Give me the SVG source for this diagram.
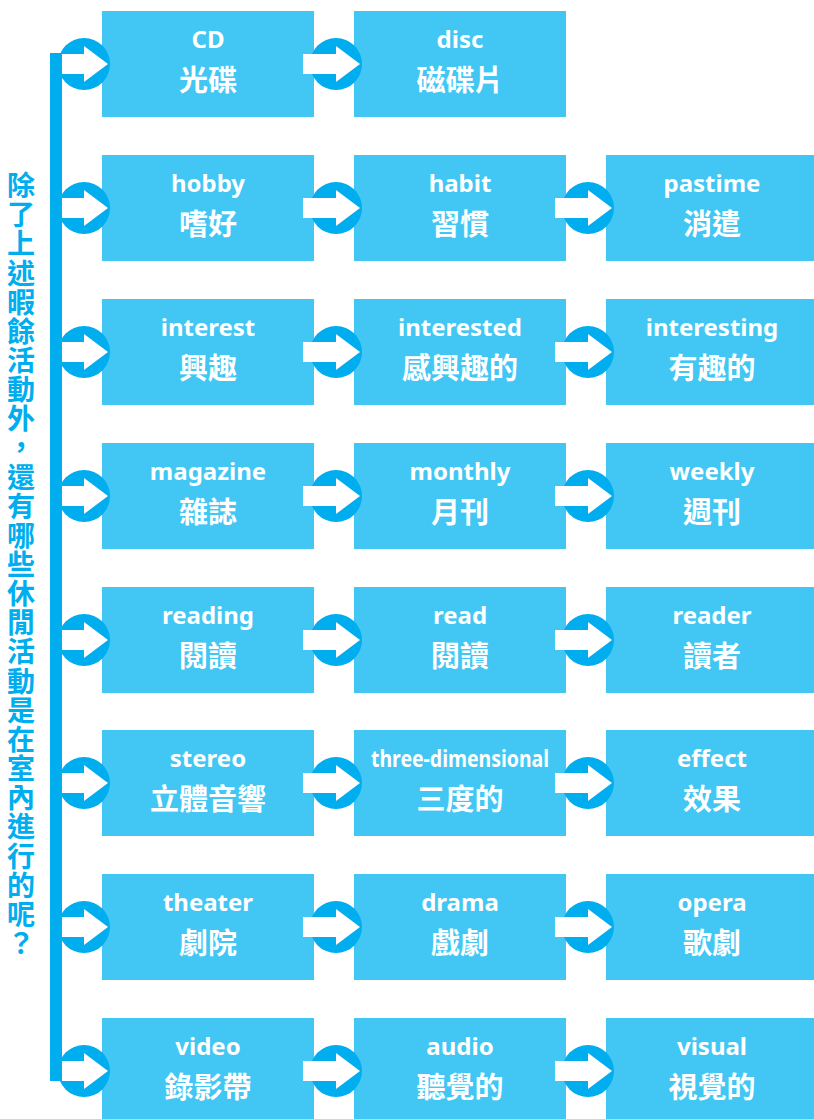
<svg xmlns="http://www.w3.org/2000/svg" xmlns:xlink="http://www.w3.org/1999/xlink" width="814" height="1119" viewBox="0 0 814 1119">
<style>
.box{fill:#42C7F4}
.en{font-family:"Noto Sans","Liberation Sans",sans-serif;font-weight:bold;font-size:24px;fill:#fff;text-anchor:middle}
.zh{font-family:"Noto Sans CJK TC","Noto Sans",sans-serif;font-weight:bold;font-size:29px;fill:#fff;text-anchor:middle;dominant-baseline:central}
.side{font-family:"Noto Sans CJK TC",sans-serif;font-weight:bold;font-size:28px;fill:#00AEEF;text-anchor:middle;dominant-baseline:central}
.dark{fill:#00AEEF}
</style>
<defs>
<g id="arr">
<circle cx="0" cy="0" r="26" fill="#00AEEF"/>
<rect x="-33" y="-10" width="34" height="20" fill="#fff"/>
<polygon points="0,-18 24,0 0,18" fill="#fff"/>
</g>
</defs>
<rect width="814" height="1119" fill="#fff"/>

<g id="n-cd"><rect class="box" x="102" y="11" width="212" height="106"/><text class="en" x="208" y="48">CD</text><text class="zh" x="208" y="78">光碟</text></g>
<g id="n-disc"><rect class="box" x="354" y="11" width="212" height="106"/><text class="en" x="460" y="48">disc</text><text class="zh" x="460" y="78">磁碟片</text></g>

<g id="n-hobby"><rect class="box" x="102" y="155" width="212" height="106"/><text class="en" x="208" y="192">hobby</text><text class="zh" x="208" y="222">嗜好</text></g>
<g id="n-habit"><rect class="box" x="354" y="155" width="212" height="106"/><text class="en" x="460" y="192">habit</text><text class="zh" x="460" y="222">習慣</text></g>
<g id="n-pastime"><rect class="box" x="606" y="155" width="212" height="106"/><text class="en" x="712" y="192">pastime</text><text class="zh" x="712" y="222">消遣</text></g>

<g id="n-interest"><rect class="box" x="102" y="299" width="212" height="106"/><text class="en" x="208" y="336">interest</text><text class="zh" x="208" y="366">興趣</text></g>
<g id="n-interested"><rect class="box" x="354" y="299" width="212" height="106"/><text class="en" x="460" y="336">interested</text><text class="zh" x="460" y="366">感興趣的</text></g>
<g id="n-interesting"><rect class="box" x="606" y="299" width="212" height="106"/><text class="en" x="712" y="336">interesting</text><text class="zh" x="712" y="366">有趣的</text></g>

<g id="n-magazine"><rect class="box" x="102" y="443" width="212" height="106"/><text class="en" x="208" y="480">magazine</text><text class="zh" x="208" y="510">雜誌</text></g>
<g id="n-monthly"><rect class="box" x="354" y="443" width="212" height="106"/><text class="en" x="460" y="480">monthly</text><text class="zh" x="460" y="510">月刊</text></g>
<g id="n-weekly"><rect class="box" x="606" y="443" width="212" height="106"/><text class="en" x="712" y="480">weekly</text><text class="zh" x="712" y="510">週刊</text></g>

<g id="n-reading"><rect class="box" x="102" y="587" width="212" height="106"/><text class="en" x="208" y="624">reading</text><text class="zh" x="208" y="654">閱讀</text></g>
<g id="n-read"><rect class="box" x="354" y="587" width="212" height="106"/><text class="en" x="460" y="624">read</text><text class="zh" x="460" y="654">閱讀</text></g>
<g id="n-reader"><rect class="box" x="606" y="587" width="212" height="106"/><text class="en" x="712" y="624">reader</text><text class="zh" x="712" y="654">讀者</text></g>

<g id="n-stereo"><rect class="box" x="102" y="730" width="212" height="106"/><text class="en" x="208" y="767">stereo</text><text class="zh" x="208" y="797">立體音響</text></g>
<g id="n-3d"><rect class="box" x="354" y="730" width="212" height="106"/><text class="en" x="460" y="767" textLength="178" lengthAdjust="spacingAndGlyphs">three-dimensional</text><text class="zh" x="460" y="797">三度的</text></g>
<g id="n-effect"><rect class="box" x="606" y="730" width="212" height="106"/><text class="en" x="712" y="767">effect</text><text class="zh" x="712" y="797">效果</text></g>

<g id="n-theater"><rect class="box" x="102" y="874" width="212" height="106"/><text class="en" x="208" y="911">theater</text><text class="zh" x="208" y="941">劇院</text></g>
<g id="n-drama"><rect class="box" x="354" y="874" width="212" height="106"/><text class="en" x="460" y="911">drama</text><text class="zh" x="460" y="941">戲劇</text></g>
<g id="n-opera"><rect class="box" x="606" y="874" width="212" height="106"/><text class="en" x="712" y="911">opera</text><text class="zh" x="712" y="941">歌劇</text></g>

<g id="n-video"><rect class="box" x="102" y="1018" width="212" height="106"/><text class="en" x="208" y="1055">video</text><text class="zh" x="208" y="1085">錄影帶</text></g>
<g id="n-audio"><rect class="box" x="354" y="1018" width="212" height="106"/><text class="en" x="460" y="1055">audio</text><text class="zh" x="460" y="1085">聽覺的</text></g>
<g id="n-visual"><rect class="box" x="606" y="1018" width="212" height="106"/><text class="en" x="712" y="1055">visual</text><text class="zh" x="712" y="1085">視覺的</text></g>

<g id="connectors">
<use xlink:href="#arr" x="84" y="64"/><use xlink:href="#arr" x="336" y="64"/>
<use xlink:href="#arr" x="84" y="208"/><use xlink:href="#arr" x="336" y="208"/><use xlink:href="#arr" x="588" y="208"/>
<use xlink:href="#arr" x="84" y="352"/><use xlink:href="#arr" x="336" y="352"/><use xlink:href="#arr" x="588" y="352"/>
<use xlink:href="#arr" x="84" y="496"/><use xlink:href="#arr" x="336" y="496"/><use xlink:href="#arr" x="588" y="496"/>
<use xlink:href="#arr" x="84" y="640"/><use xlink:href="#arr" x="336" y="640"/><use xlink:href="#arr" x="588" y="640"/>
<use xlink:href="#arr" x="84" y="783"/><use xlink:href="#arr" x="336" y="783"/><use xlink:href="#arr" x="588" y="783"/>
<use xlink:href="#arr" x="84" y="927"/><use xlink:href="#arr" x="336" y="927"/><use xlink:href="#arr" x="588" y="927"/>
<use xlink:href="#arr" x="84" y="1071"/><use xlink:href="#arr" x="336" y="1071"/><use xlink:href="#arr" x="588" y="1071"/>
<rect class="dark" x="50" y="53" width="12" height="1028"/>
</g>

<g id="side-title">
<text class="side" x="21 21 21 21 21 21 21 21 21 21 21 21 21 21 21 21 21 21 21 21 21 21 21 21 21 21 21" y="184 213.2 242.3 271.5 300.6 329.8 358.9 388.1 417.2 446.4 475.5 504.7 533.8 563 592.1 621.3 650.4 679.6 708.7 737.9 767 796.2 825.3 854.5 883.6 912.8 942">除了上述暇餘活動外，還有哪些休閒活動是在室內進行的呢？</text>
</g>
</svg>
